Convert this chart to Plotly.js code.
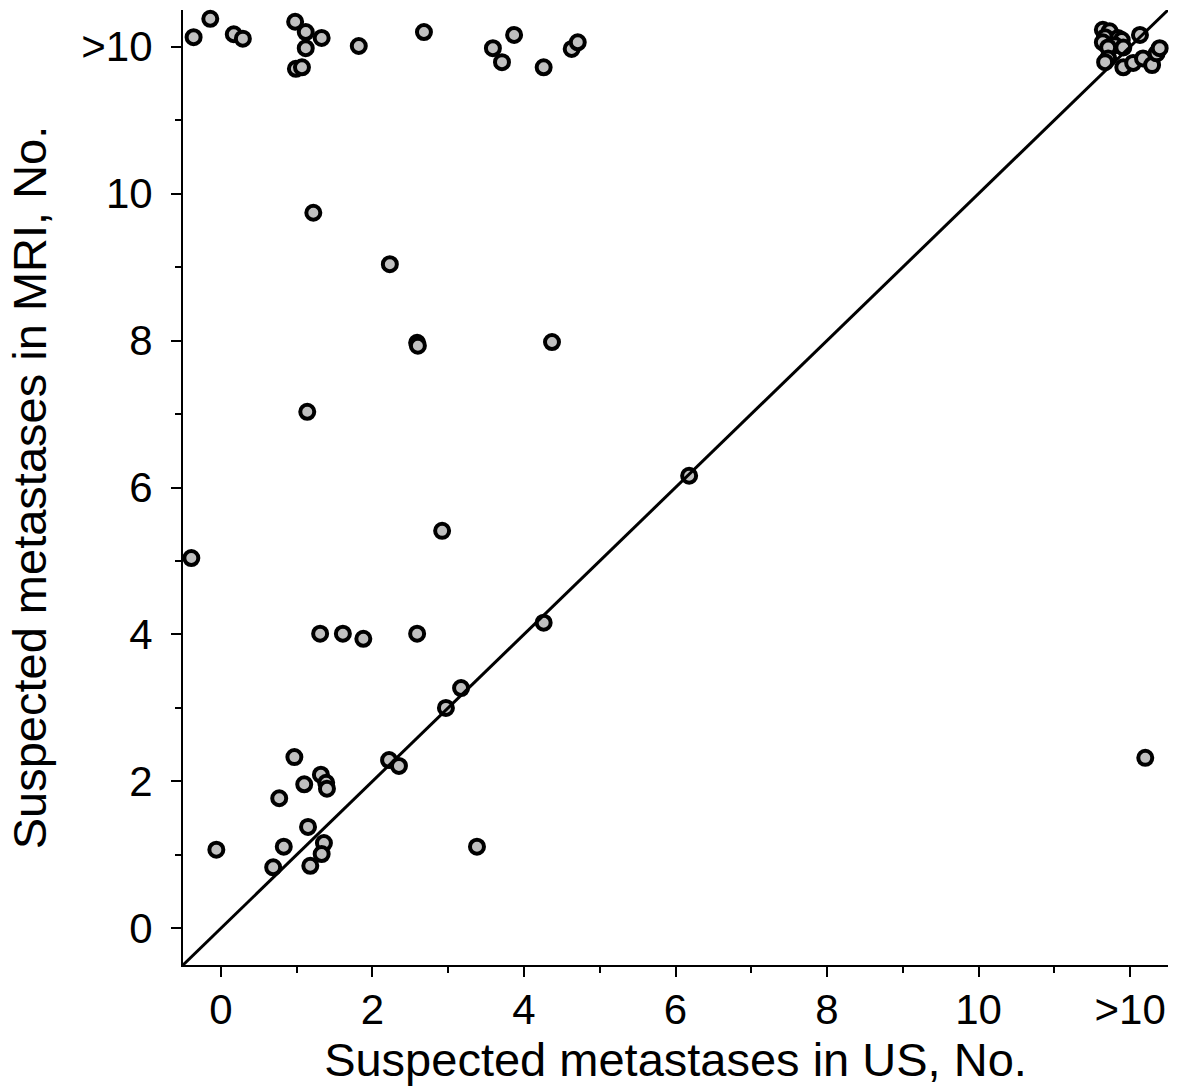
<!DOCTYPE html>
<html>
<head>
<meta charset="utf-8">
<script src="https://cdn.plot.ly/plotly-3.0.1.min.js"></script>
<style>
  html, body { margin: 0; padding: 0; background: #ffffff; }
  #chart { width: 1177px; height: 1089px; }
</style>
</head>
<body>
<div id="chart"></div>
<script>
// Suspected metastases counts (jittered), US (x) vs MRI (y); 12 = ">10"
const usCounts = [
  -0.36, -0.14, 0.17, 0.29, 0.98, 1.12, 1.33, 1.12, 0.99, 1.07, 1.82, 2.68, 3.59, 3.71, 3.87, 4.26, 4.63, 4.71,
  11.64, 11.73, 11.67, 11.84, 11.89, 11.64, 11.80, 11.71, 11.91, 11.71, 11.67, 11.91, 12.04, 12.17, 12.29, 12.35, 12.39, 12.13,
  1.22, 2.23, 2.59, 2.60, 4.37, 1.14, 6.18, 2.92, -0.39, 1.31, 1.61, 1.88, 2.59, 4.26, 3.17, 2.97,
  0.97, 2.22, 2.35, 1.32, 1.10, 1.39, 1.40, 0.77, 1.15, -0.06, 0.83, 1.36, 1.33, 0.69, 1.18, 3.38, 12.20
];
const mriCounts = [
  12.13, 12.38, 12.17, 12.11, 12.34, 12.20, 12.12, 11.98, 11.70, 11.72, 12.01, 12.20, 11.98, 11.79, 12.16, 11.72, 11.97, 12.06,
  12.23, 12.21, 12.13, 12.12, 12.09, 12.06, 12.02, 11.99, 11.99, 11.84, 11.79, 11.72, 11.78, 11.84, 11.75, 11.91, 11.98, 12.16,
  9.74, 9.04, 7.97, 7.93, 7.98, 7.03, 6.16, 5.41, 5.04, 4.01, 4.01, 3.94, 4.01, 4.16, 3.27, 3.00,
  2.33, 2.29, 2.21, 2.09, 1.96, 1.98, 1.90, 1.77, 1.38, 1.07, 1.11, 1.16, 1.01, 0.83, 0.85, 1.11, 2.32
];
// Identity line (US = MRI) spanning the axis range
const identityLine = [-0.5, 12.5];
const axisRange = [-0.5, 12.5];
const tickValues = [0, 2, 4, 6, 8, 10, 12];
const tickLabels = ['0', '2', '4', '6', '8', '10', '>10'];
const minorTickValues = [1, 3, 5, 7, 9, 11];

const FONT = 'Liberation Sans, Arial, Helvetica, sans-serif';

const traces = [
  {
    type: 'scatter',
    mode: 'markers',
    x: usCounts,
    y: mriCounts,
    marker: {
      symbol: 'circle',
      size: 14,
      color: '#c0c0c0',
      line: { color: '#000000', width: 4 }
    },
    cliponaxis: false,
    hoverinfo: 'x+y',
    showlegend: false
  },
  {
    type: 'scatter',
    mode: 'lines',
    x: identityLine,
    y: identityLine,
    line: { color: '#000000', width: 3 },
    hoverinfo: 'skip',
    showlegend: false
  }
];

function axis(titleText, standoff, labelStandoff) {
  return {
    range: axisRange,
    tickmode: 'array',
    tickvals: tickValues,
    ticktext: tickLabels,
    ticks: 'outside',
    ticklen: 10,
    tickwidth: 2,
    tickcolor: '#000000',
    ticklabelstandoff: labelStandoff,
    showline: true,
    linewidth: 2,
    linecolor: '#000000',
    showgrid: false,
    zeroline: false,
    tickfont: { family: FONT, size: 42, color: '#000000' },
    minor: {
      tickmode: 'array',
      tickvals: minorTickValues,
      ticks: 'outside',
      ticklen: 6,
      tickwidth: 2,
      tickcolor: '#000000',
      showgrid: false
    },
    title: {
      text: titleText,
      font: { family: FONT, size: 47, color: '#000000' },
      standoff: standoff
    },
    automargin: false,
    fixedrange: true
  };
}

const layout = {
  width: 1177,
  height: 1089,
  margin: { l: 183, r: 9, t: 10, b: 124 },
  paper_bgcolor: '#ffffff',
  plot_bgcolor: '#ffffff',
  showlegend: false,
  xaxis: axis('Suspected metastases in US, No.', 2, -3),
  yaxis: axis('Suspected metastases in MRI, No.', 20, 10),
  font: { family: FONT, color: '#000000' }
};

Plotly.newPlot('chart', traces, layout, { displayModeBar: false, staticPlot: true });
</script>
</body>
</html>
